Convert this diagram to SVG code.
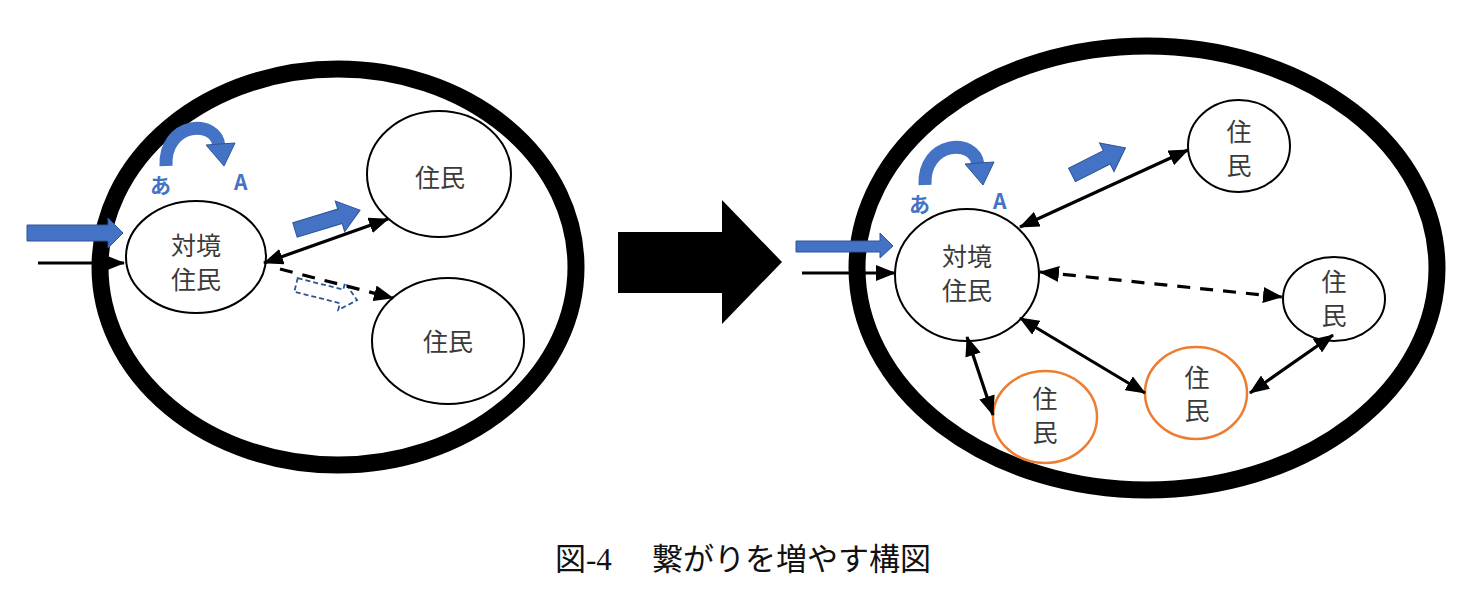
<svg xmlns="http://www.w3.org/2000/svg" width="1480" height="613" viewBox="0 0 1480 613">
<style>
.big{fill:none;stroke:#000;stroke-width:17}
.node{fill:#fff;stroke:#000;stroke-width:2}
.onode{fill:#fff;stroke:#ED7D31;stroke-width:2.5}
.lbl{font-family:"Noto Sans CJK JP","Noto Sans",sans-serif;font-size:25px;fill:#3a3a3a;text-anchor:middle;dominant-baseline:central}
.ba{font-family:"Noto Sans CJK JP","Noto Sans",sans-serif;font-size:21px;font-weight:bold;fill:#4472C4}
.conn{stroke:#000;stroke-width:3.2;fill:none}
.dash{stroke-dasharray:13 10}
.blue{fill:#4472C4;stroke:#2F5597;stroke-width:1}
.bluedash{fill:#fff;stroke:#2F5597;stroke-width:1.8;stroke-dasharray:5 3}
.arc{fill:none;stroke:#4472C4;stroke-width:13}
.cap{font-family:"Liberation Serif","Noto Sans CJK JP",serif;font-size:31px;fill:#111}
</style>
<defs>
<marker id="ah" viewBox="0 0 20 16" refX="19" refY="8" markerWidth="20" markerHeight="16" markerUnits="userSpaceOnUse" orient="auto-start-reverse">
<path d="M0,0 L20,8 L0,16 z" fill="#000"/>
</marker>
</defs>
<rect width="1480" height="613" fill="#fff"/>

<g id="left-group">
<ellipse class="big" cx="338" cy="267" rx="238" ry="198"/>
</g>
<g id="right-group">
<ellipse class="big" cx="1147" cy="268" rx="290" ry="222"/>
</g>

<g id="left-nodes">
<g id="L-taikyo">
<ellipse class="node" cx="196" cy="257" rx="70" ry="56"/>
<text class="lbl" x="196" y="244">対境</text>
<text class="lbl" x="196" y="278">住民</text>
</g>
<g id="L-jumin1">
<ellipse class="node" cx="439" cy="174" rx="72" ry="63"/>
<text class="lbl" x="440" y="176">住民</text>
</g>
<g id="L-jumin2">
<ellipse class="node" cx="448" cy="341" rx="76" ry="63"/>
<text class="lbl" x="448" y="340">住民</text>
</g>
</g>

<g id="right-nodes">
<g id="R-taikyo">
<ellipse class="node" cx="967" cy="275" rx="72" ry="66"/>
<text class="lbl" x="967" y="255">対境</text>
<text class="lbl" x="967" y="289">住民</text>
</g>
<g id="R-jumin1">
<ellipse class="node" cx="1239" cy="146" rx="51" ry="46"/>
<text class="lbl" x="1239" y="130">住</text>
<text class="lbl" x="1239" y="164">民</text>
</g>
<g id="R-jumin2">
<ellipse class="node" cx="1334" cy="299" rx="51" ry="42"/>
<text class="lbl" x="1334" y="280">住</text>
<text class="lbl" x="1334" y="314">民</text>
</g>
<g id="R-jumin3">
<ellipse class="onode" cx="1196" cy="393" rx="51" ry="46"/>
<text class="lbl" x="1197" y="376">住</text>
<text class="lbl" x="1197" y="409">民</text>
</g>
<g id="R-jumin4">
<ellipse class="onode" cx="1045" cy="417" rx="52" ry="46"/>
<text class="lbl" x="1045" y="397">住</text>
<text class="lbl" x="1045" y="431">民</text>
</g>
</g>

<g id="decor">
<g id="L-curve">
<path class="arc" d="M166,166 C164,122 216,118 219,146"/>
<path class="blue" d="M206,145 L235,143 L224,166 z"/>
<text class="ba" x="150" y="193">あ</text>
<text class="ba" x="234" y="190">A</text>
</g>
<g id="R-curve" transform="translate(759,19)">
<path class="arc" d="M166,166 C164,122 216,118 219,146"/>
<path class="blue" d="M206,145 L235,143 L224,166 z"/>
<text class="ba" x="150" y="193">あ</text>
<text class="ba" x="234" y="190">A</text>
</g>
<path id="L-in" class="blue" d="M27,225 L108,225 L108,218 L123,233 L108,248 L108,241 L27,241 z"/>
<path id="R-in" class="blue" d="M796,241 L880,241 L880,233 L893,246 L880,258 L880,252 L796,252 z"/>
<path id="L-blk" class="blue" transform="translate(295,230) rotate(-17)" d="M0,-7.5 L47,-7.5 L47,-16 L68,0 L47,16 L47,7.5 L0,7.5 z"/>
<path id="L-blkdash" class="bluedash" transform="translate(296,285) rotate(14)" d="M0,-7 L47,-7 L47,-14 L63,0 L47,14 L47,7 L0,7 z"/>
<path id="R-blk" class="blue" transform="translate(1072,175) rotate(-27)" d="M0,-7.5 L39,-7.5 L39,-16 L60,0 L39,16 L39,7.5 L0,7.5 z"/>
<path id="big-arrow" d="M618,232 L722,232 L722,200 L782,262 L722,324 L722,293 L618,293 z" fill="#000"/>
</g>

<g id="connectors">
<line class="conn" x1="38" y1="263" x2="124" y2="263" marker-end="url(#ah)"/>
<line class="conn" x1="264" y1="263" x2="388" y2="219" marker-start="url(#ah)" marker-end="url(#ah)"/>
<line class="conn dash" x1="280" y1="269" x2="393" y2="298" marker-end="url(#ah)"/>
<line class="conn" x1="802" y1="273" x2="895" y2="273" marker-end="url(#ah)"/>
<line class="conn" x1="1020" y1="227" x2="1188" y2="150" marker-start="url(#ah)" marker-end="url(#ah)"/>
<line class="conn dash" x1="1040" y1="272" x2="1282" y2="297" marker-start="url(#ah)" marker-end="url(#ah)"/>
<line class="conn" x1="1020" y1="318" x2="1145" y2="393" marker-start="url(#ah)" marker-end="url(#ah)"/>
<line class="conn" x1="967" y1="337" x2="993" y2="415" marker-start="url(#ah)" marker-end="url(#ah)"/>
<line class="conn" x1="1333" y1="335" x2="1250" y2="393" marker-start="url(#ah)" marker-end="url(#ah)"/>
</g>

<text id="caption" class="cap" x="555" y="570">図-4　<tspan x="652">繋がりを増やす構図</tspan></text>
</svg>
